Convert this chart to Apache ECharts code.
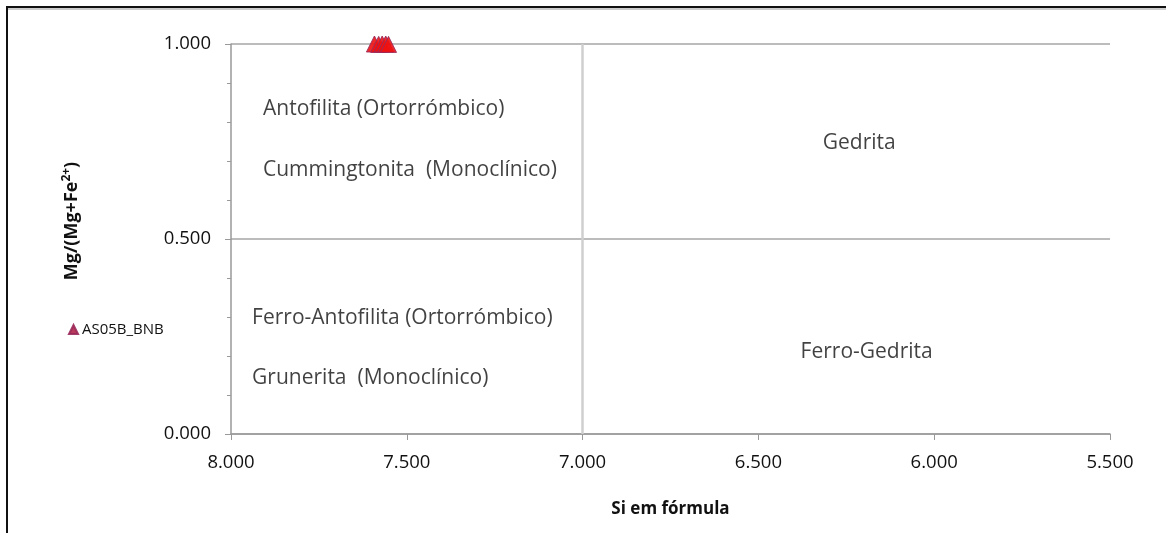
<!DOCTYPE html>
<html>
<head>
<meta charset="utf-8">
<script src="https://cdn.jsdelivr.net/npm/echarts@6/dist/echarts.min.js"></script>
<style>
html,body{margin:0;padding:0;background:#fff;}
#c{width:1166px;height:533px;}
</style>
</head>
<body>
<div id="c"></div>
<script>
// Series: AS05B_BNB (Si em fórmula, Mg/(Mg+Fe2+))
const seriesName = 'AS05B_BNB';
const siValues = [7.592, 7.580, 7.570, 7.560, 7.552];
const mgValues = [1.000, 0.999, 1.000, 1.000, 0.999];

// Field labels (text, Si, Mg ratio)
const fieldNames = ['Antofilita (Ortorrómbico)', 'Cummingtonita  (Monoclínico)', 'Gedrita',
  'Ferro-Antofilita (Ortorrómbico)', 'Grunerita  (Monoclínico)', 'Ferro-Gedrita'];
const fieldSi = [7.909, 7.909, 6.317, 7.940, 7.940, 6.380];
const fieldMg = [0.833, 0.677, 0.746, 0.297, 0.144, 0.210];

const xMin = 5.5, xMax = 8.0, xInterval = 0.5;
const yMin = 0, yMax = 1.0, yInterval = 0.5;
const divideSi = 7.0;

const font = '"Open Sans", "Liberation Sans", sans-serif';

const chart = echarts.init(document.getElementById('c'), null, {renderer: 'canvas'});
chart.setOption({
  animation: false,
  backgroundColor: '#ffffff',
  grid: {left: 231, right: 56, top: 44, bottom: 99},
  legend: {
    left: 63, top: 317, orient: 'vertical',
    itemWidth: 9, itemHeight: 9, itemGap: 4,
    textStyle: {fontFamily: font, fontSize: 15, color: '#111', padding: [0,0,0,-1]},
    data: [{name: seriesName, icon: 'triangle', itemStyle: {color: '#b0244a'}}]
  },
  xAxis: {
    type: 'value', inverse: true, min: xMin, max: xMax, interval: xInterval,
    name: 'Si em fórmula', nameLocation: 'middle', nameGap: 67,
    nameTextStyle: {fontFamily: font, fontSize: 17, fontWeight: 'bold', color: '#111'},
    axisLine: {show: true, onZero: false, lineStyle: {color: '#999', width: 1.5}},
    axisTick: {show: true, inside: false, length: 6, lineStyle: {color: '#999'}},
    axisLabel: {fontFamily: font, fontSize: 18.5, color: '#111', margin: 19,
      formatter: v => v.toFixed(3)},
    splitLine: {show: false}
  },
  yAxis: {
    type: 'value', min: yMin, max: yMax, interval: yInterval,
    name: 'Mg/(Mg+Fe{sup|2+})', nameLocation: 'middle', nameGap: 148, nameRotate: 90,
    nameTextStyle: {fontFamily: font, fontSize: 18, fontWeight: 'bold', color: '#111',
      padding: [0, 0, 0, 36],
      rich: {sup: {fontSize: 12, fontWeight: 'bold', verticalAlign: 'top', padding: [0,0,10,0], fontFamily: font, color: '#111'}}},
    axisLine: {show: true, lineStyle: {color: '#999', width: 1.5}},
    axisTick: {show: true, length: 6, lineStyle: {color: '#999'}},
    minorTick: {show: true, splitNumber: 5, length: 4, lineStyle: {color: '#999'}},
    axisLabel: {fontFamily: font, fontSize: 18.5, color: '#111', margin: 20,
      formatter: v => v.toFixed(3)},
    splitLine: {show: true, lineStyle: {color: '#a6a6a6', width: 1.5}}
  },
  graphic: [
    {type: 'line', shape: {x1: 7, y1: 7, x2: 1166, y2: 7}, style: {stroke: '#111', lineWidth: 2}},
    {type: 'line', shape: {x1: 7, y1: 9, x2: 1166, y2: 9}, style: {stroke: '#bbb', lineWidth: 1.5}},
    {type: 'line', shape: {x1: 7, y1: 6, x2: 7, y2: 533}, style: {stroke: '#111', lineWidth: 2}}
  ],
  series: [
    {
      name: 'divisor', type: 'line', data: [], silent: true,
      markLine: {
        symbol: 'none', silent: true, label: {show: false},
        lineStyle: {color: '#cfcfcf', width: 2.5, type: 'solid'},
        data: [{xAxis: divideSi}]
      }
    },
    {
      name: 'labels', type: 'scatter', symbolSize: 0, silent: true,
      data: fieldNames.map((n, i) => ({value: [fieldSi[i], fieldMg[i]], name: n})),
      label: {show: true, position: 'right', distance: 0, align: 'left', verticalAlign: 'middle',
        fontFamily: font, fontSize: 21, color: '#111', formatter: p => p.name}
    },
    {
      name: seriesName, type: 'scatter', symbol: 'triangle', symbolSize: 16,
      itemStyle: {color: '#ee1111', borderColor: '#9a2a5a', borderWidth: 1, opacity: 0.9},
      data: siValues.map((s, i) => [s, mgValues[i]]),
      z: 5
    }
  ]
});
</script>
</body>
</html>
